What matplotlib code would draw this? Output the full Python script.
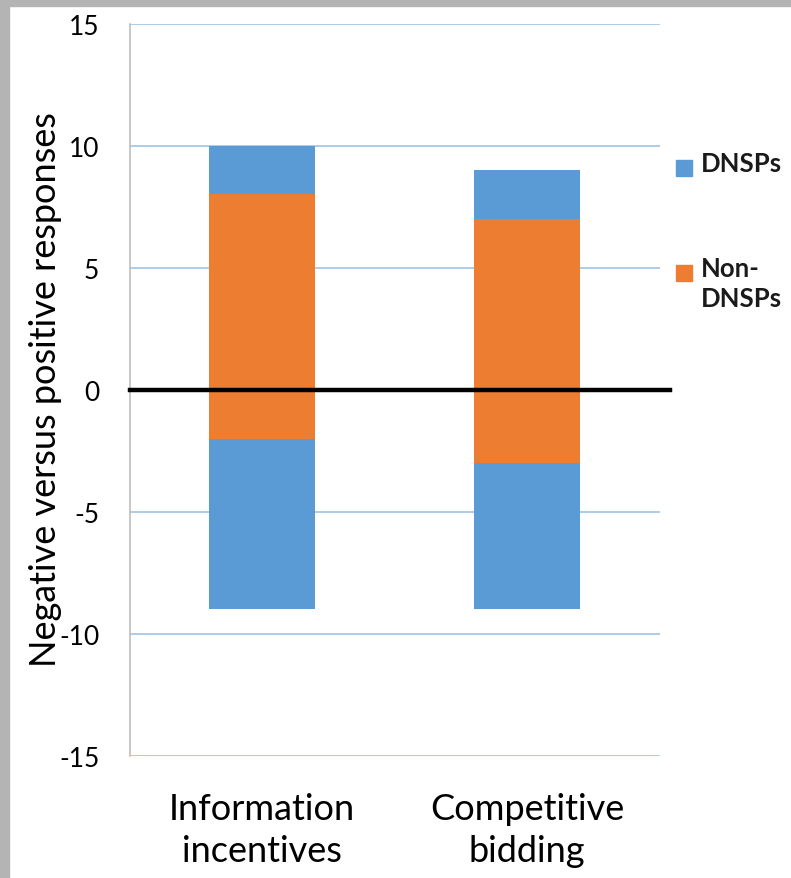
import numpy as np
import matplotlib.pyplot as plt
from matplotlib.patches import Rectangle

plt.rcParams['font.family'] = ['Lato', 'DejaVu Sans']
plt.rcParams['axes.unicode_minus'] = False

categories = ["Information\nincentives", "Competitive\nbidding"]
dnsp_pos = [2, 2]
non_dnsp_pos = [8, 7]
non_dnsp_neg = [-2, -3]
dnsp_neg = [-7, -6]
y_ticks = [-15, -10, -5, 0, 5, 10, 15]
legend_labels = ["DNSPs", "Non-\nDNSPs"]

blue = "#5B9BD5"
orange = "#ED7D31"

fig = plt.figure(figsize=(7.91, 8.79), dpi=100)
fig.patch.set_facecolor("white")
ax = fig.add_axes([0.164, 0.139, 0.67, 0.833])

x = np.arange(len(categories))
w = 0.4

# positive side: non-DNSPs from zero, DNSPs on top
ax.bar(x, non_dnsp_pos, w, color=orange, zorder=2)
ax.bar(x, dnsp_pos, w, bottom=non_dnsp_pos, color=blue, zorder=2)
# negative side
ax.bar(x, non_dnsp_neg, w, color=orange, zorder=2)
ax.bar(x, dnsp_neg, w, bottom=non_dnsp_neg, color=blue, zorder=2)

ax.set_xlim(-0.5, 1.5)
ax.set_ylim(-15, 15)
ax.set_yticks(y_ticks)
ax.set_xticks(x)
ax.set_xticklabels(categories, fontsize=26, linespacing=1.35)
ax.tick_params(axis="y", length=0, pad=22, labelsize=19)
ax.tick_params(axis="x", length=0, pad=26)

ax.grid(axis="y", color="#9DC3E6", linewidth=1.2, zorder=0)
for s in ["top", "right", "bottom"]:
    ax.spines[s].set_visible(False)
ax.spines["left"].set_color("#BFBFBF")
ax.spines["left"].set_linewidth(1.2)

ax.plot([0, 1.02], [0, 0], color="black", linewidth=3.2,
        transform=ax.get_yaxis_transform(), clip_on=False, zorder=3)

fig.text(0.058, 0.557, "Negative versus positive responses", rotation=90,
         ha="center", va="center", fontsize=26)

# legend keys drawn by hand so the square sits beside the first line
legend_colors = [blue, orange]
legend_y = [1 - 169 / 879, 1 - 274 / 879]
sq_w, sq_h = 16 / 791, 16 / 879
for lab, col, ly in zip(legend_labels, legend_colors, legend_y):
    fig.add_artist(Rectangle((676 / 791, ly - sq_h / 2), sq_w, sq_h,
                             transform=fig.transFigure, color=col))
    fig.text(701 / 791, ly + 0.019, lab, ha="left", va="top", fontsize=18.5,
             fontweight="bold", linespacing=1.3, color="#1A1A1A")

# grey window frame along the top and left edges
fig.add_artist(Rectangle((0, 0), 9 / 791, 1, transform=fig.transFigure,
                         color="#B4B4B4", zorder=10))
fig.add_artist(Rectangle((0, 1 - 7 / 879), 1, 7 / 879, transform=fig.transFigure,
                         color="#B4B4B4", zorder=10))

fig.savefig("out.png", dpi=100)
